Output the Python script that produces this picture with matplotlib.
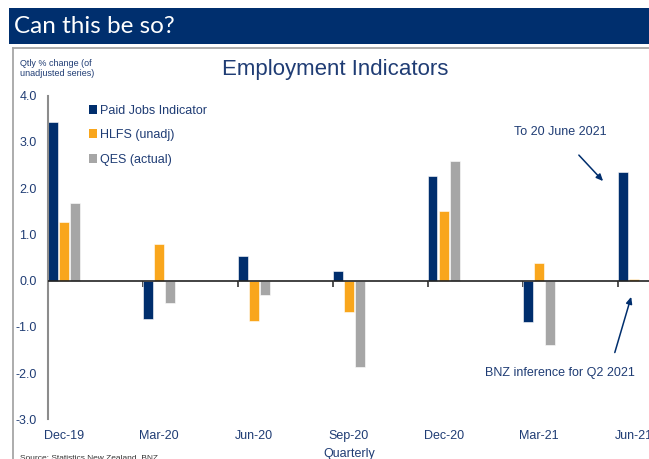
import matplotlib
matplotlib.use("Agg")
import matplotlib.pyplot as plt
from matplotlib.patches import Rectangle, Patch
from matplotlib.lines import Line2D
import numpy as np

# ---- data ----
quarters = ["Dec-19", "Mar-20", "Jun-20", "Sep-20", "Dec-20", "Mar-21", "Jun-21"]
paid_jobs = [3.43, -0.83, 0.53, 0.21, 2.26, -0.90, 2.34]
hlfs = [1.28, 0.79, -0.86, -0.68, 1.51, 0.38, 0.03]
qes = [1.68, -0.49, -0.31, -1.86, 2.59, -1.39, np.nan]
series_names = ["Paid Jobs Indicator", "HLFS (unadj)", "QES (actual)"]
yticks = [4.0, 3.0, 2.0, 1.0, 0.0, -1.0, -2.0, -3.0]

NAVY = "#002e6d"
ORANGE = "#f9a61c"
GREY = "#a6a6a6"
TXT = "#1f3c74"

plt.rcParams['font.family'] = ['Liberation Sans', 'DejaVu Sans']

W, H = 649, 459
fig = plt.figure(figsize=(W / 100, H / 100), dpi=100)

def fx(px):
    return px / W

def fy(py):
    return 1 - py / H

# banner
fig.patches.append(Rectangle((fx(9), fy(44)), 1 - fx(9), (44 - 8) / H,
                             transform=fig.transFigure, facecolor="#002f6e",
                             edgecolor="none", zorder=0))
fig.text(fx(14), fy(26.5), "Can this be so?", color="white", fontsize=17.5,
         family=["Lato", "DejaVu Sans"], va="center", ha="left")

# box border
fig.add_artist(Line2D([fx(13), 1.0], [fy(48), fy(48)], transform=fig.transFigure,
                      color="#a6a6a6", lw=1.3))
fig.add_artist(Line2D([fx(13), fx(13)], [fy(48), 0], transform=fig.transFigure,
                      color="#a6a6a6", lw=1.3))

# axes
ax_left, ax_right = 48, 649
y_top, y_bot = 95.7, 419.5
ax = fig.add_axes([fx(ax_left), fy(y_bot), fx(ax_right) - fx(ax_left), (y_bot - y_top) / H])
unit = 95.0
ax.set_xlim(0, (ax_right - ax_left) / unit)
ax.set_ylim(-3, 4)

x = np.arange(len(quarters))
bw = 0.1
step = 0.116
cols = [NAVY, ORANGE, GREY]
for k, (vals, c, name) in enumerate(zip([paid_jobs, hlfs, qes], cols, series_names)):
    ax.bar(x + k * step, vals, width=bw, align="edge", color=c,
           edgecolor="white", linewidth=0.4, label=name, zorder=2)

ax.axhline(0, color="#222222", lw=1.2, zorder=3)

for s in ["top", "right", "bottom"]:
    ax.spines[s].set_visible(False)
ax.spines["left"].set_color("#8c8c8c")
ax.spines["left"].set_linewidth(1.5)

ax.set_yticks(yticks)
ax.set_yticklabels([f"{v:.1f}" for v in yticks])
ax.tick_params(axis="y", length=0, pad=8, labelsize=9, labelcolor=TXT)

ax.set_xticks(x + step + bw / 2)
ax.set_xticklabels(quarters)
ax.tick_params(axis="x", length=0, pad=7.5, labelsize=9, labelcolor=TXT)

sec = ax.secondary_xaxis(3 / 7)
sec.set_xticks(x)
sec.set_xticklabels([])
sec.tick_params(axis="x", length=4, width=1.2, color="#333333", direction="out")
for s in sec.spines.values():
    s.set_visible(False)

# legend
handles = [Patch(facecolor=c, edgecolor="none") for c in cols]
leg = ax.legend(handles, series_names, loc="upper left",
                bbox_to_anchor=(fx(89), fy(104.5)), bbox_transform=fig.transFigure,
                frameon=False, fontsize=9, handlelength=0.65, handleheight=0.75,
                handletextpad=0.25, labelspacing=1.0, borderpad=0, borderaxespad=0)
for t in leg.get_texts():
    t.set_color(TXT)

# annotations
ax.annotate("", xy=(5.863, 2.11), xytext=(5.568, 2.76),
            arrowprops=dict(arrowstyle="-|>,head_length=0.4,head_width=0.18",
                            color=NAVY, lw=1.1))
ax.text(5.39, 3.215, "To 20 June 2021", ha="center", va="center", fontsize=9, color=TXT)
ax.annotate("", xy=(6.147, -0.29), xytext=(5.958, -1.61),
            arrowprops=dict(arrowstyle="-|>,head_length=0.4,head_width=0.18",
                            color=NAVY, lw=1.1))
ax.text(5.39, -2.0, "BNZ inference for Q2 2021", ha="center", va="center",
        fontsize=9, color=TXT)

# titles / labels
fig.text(fx(335), fy(69.5), "Employment Indicators", ha="center", va="center",
         fontsize=16, color=TXT)
fig.text(fx(20), fy(68.5), "Qtly % change (of\nunadjusted series)", ha="left",
         va="center", fontsize=6.5, color=TXT, linespacing=1.1)
fig.text(fx(349), fy(454), "Quarterly", ha="center", va="center", fontsize=9, color=TXT)
fig.text(fx(20), fy(458), "Source: Statistics New Zealand, BNZ", ha="left",
         va="center", fontsize=6, color="#333333")

fig.savefig("out.png", dpi=100)
